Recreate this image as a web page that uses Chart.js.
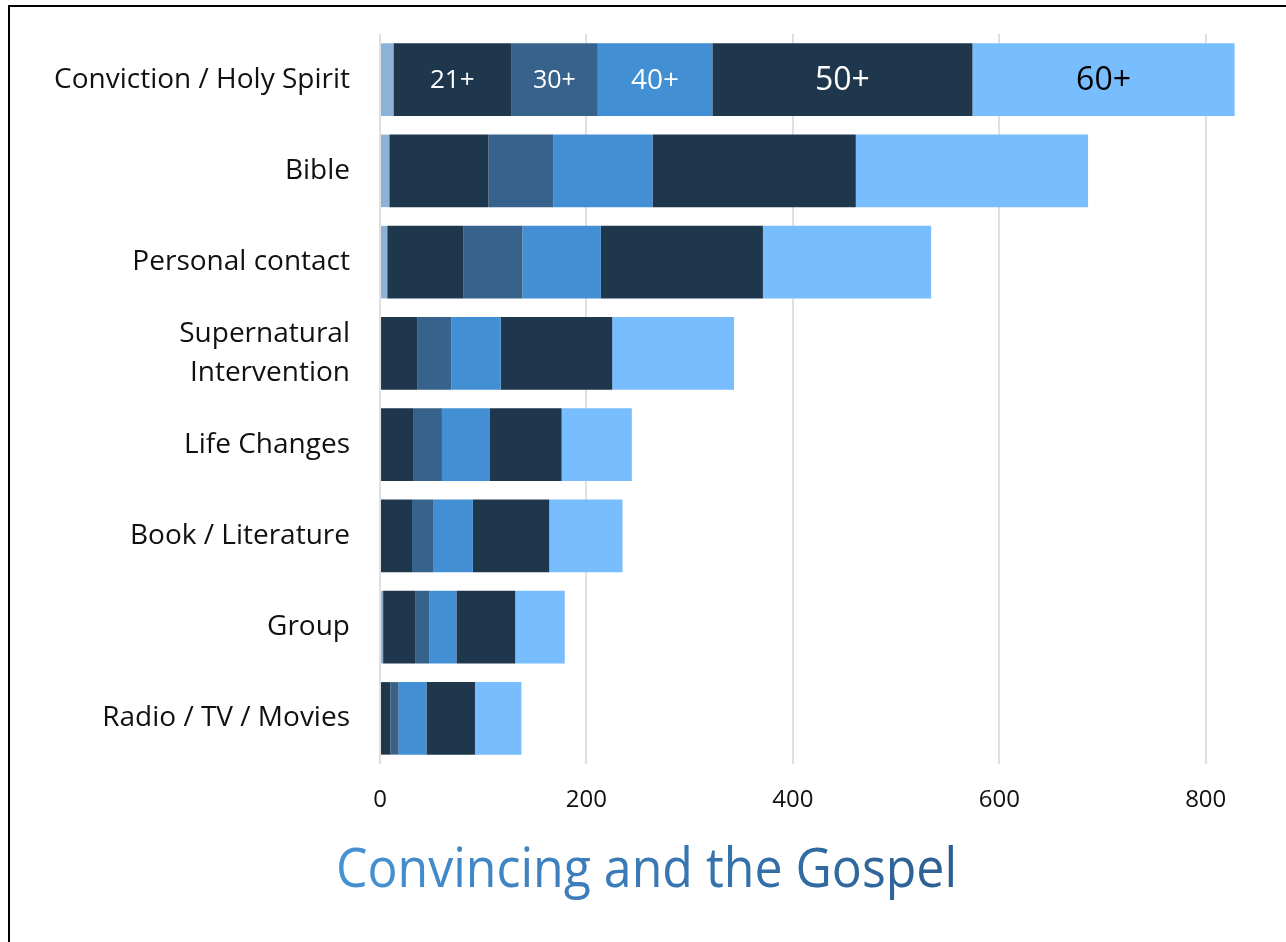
<!DOCTYPE html>
<html>
<head>
<meta charset="utf-8">
<title>Convincing and the Gospel</title>
<script src="https://cdn.jsdelivr.net/npm/chart.js@4.4.1/dist/chart.umd.min.js"></script>
<style>
  html, body { margin: 0; padding: 0; background: #fff; }
  #wrap { position: relative; width: 1286px; height: 942px; overflow: hidden; }
  #frame { position: absolute; left: 8px; top: 5px; right: -10px; bottom: -10px;
           border-left: 2px solid #000; border-top: 2px solid #000; }
  canvas { position: absolute; left: 0; top: 0; }
</style>
</head>
<body>
<div id="wrap">
  <canvas id="convincingChart" width="1286" height="942"></canvas>
  <div id="frame"></div>
</div>
<script>
// What convinced people, split by age group
const categories = [
  'Conviction / Holy Spirit',
  'Bible',
  'Personal contact',
  ['Supernatural', 'Intervention'],
  'Life Changes',
  'Book / Literature',
  'Group',
  'Radio / TV / Movies'
];
const ageGroups = ['Under 21', '21+', '30+', '40+', '50+', '60+'];
const under21 = [13, 9, 7, 1, 1, 0, 3, 0];
const age21 = [114, 96, 74, 35, 31, 31, 31, 10];
const age30 = [84, 63, 57, 33, 28, 21, 14, 8];
const age40 = [111, 96, 76, 48, 46, 38, 26, 27];
const age50 = [252, 197, 157, 108, 70, 74, 57, 47];
const age60 = [254, 225, 163, 118, 68, 71, 48, 45];
const xTicks = [0, 200, 400, 600, 800];
const chartTitle = 'Convincing and the Gospel';

const seriesValues = [under21, age21, age30, age40, age50, age60];
const seriesColors = ['#8cb2d8', '#1e374d', '#37628b', '#428fd3', '#1e374d', '#78bdfd'];

// in-bar labels on the first row: text colour and font size per age group
const inBarStyle = [
  null,
  { color: '#ffffff', size: 26 },
  { color: '#ffffff', size: 25 },
  { color: '#ffffff', size: 28 },
  { color: '#ffffff', size: 32 },
  { color: '#000000', size: 32 }
];

Chart.defaults.font.family = "'Open Sans', sans-serif";
Chart.defaults.color = '#000';

const datasets = ageGroups.map((label, i) => ({
  label: label,
  data: seriesValues[i],
  backgroundColor: seriesColors[i],
  borderWidth: 0,
  barPercentage: 0.795,
  categoryPercentage: 1.0
}));

const segmentLabels = {
  id: 'segmentLabels',
  afterDatasetsDraw(chart) {
    const ctx = chart.ctx;
    ctx.save();
    ctx.textAlign = 'center';
    ctx.textBaseline = 'middle';
    chart.data.datasets.forEach((ds, i) => {
      const style = inBarStyle[i];
      if (!style) return;
      const bar = chart.getDatasetMeta(i).data[0];
      ctx.fillStyle = style.color;
      ctx.font = style.size + "px 'Open Sans'";
      ctx.fillText(ds.label, (bar.x + bar.base) / 2, bar.y + 1);
    });
    ctx.restore();
  }
};

const bottomTitle = {
  id: 'bottomTitle',
  afterDraw(chart) {
    const ctx = chart.ctx;
    const left = 336, right = 957, baseline = 887;
    ctx.save();
    ctx.font = "55px 'Open Sans'";
    ctx.textBaseline = 'alphabetic';
    ctx.textAlign = 'left';
    const w = ctx.measureText(chartTitle).width;
    ctx.translate(left, baseline);
    ctx.scale((right - left) / w, 1);
    const grad = ctx.createLinearGradient(0, 0, w, 0);
    grad.addColorStop(0, '#4792d4');
    grad.addColorStop(1, '#2b5f93');
    ctx.fillStyle = grad;
    ctx.fillText(chartTitle, 0, 0);
    ctx.restore();
  }
};

new Chart(document.getElementById('convincingChart'), {
  type: 'bar',
  data: { labels: categories, datasets: datasets },
  options: {
    indexAxis: 'y',
    responsive: false,
    animation: false,
    layout: { padding: { top: 34, right: 39, left: 0, bottom: 0 } },
    plugins: {
      legend: { display: false },
      title: { display: false },
      tooltip: { enabled: false }
    },
    scales: {
      x: {
        stacked: true,
        min: 0,
        max: 840,
        afterBuildTicks: scale => {
          scale.ticks = xTicks.map(v => ({ value: v }));
        },
        afterFit: scale => { scale.height = 178; },
        grid: { color: '#e0e0e0', lineWidth: 2, drawTicks: false },
        border: { display: false },
        ticks: { padding: 22, font: { size: 24 }, color: '#111' }
      },
      y: {
        stacked: true,
        afterFit: scale => {
          scale.width = 380;
          // keep the category rows spread evenly over the plot height
          scale.paddingTop = 0;
          scale.paddingBottom = 0;
        },
        grid: { display: false, drawTicks: false },
        border: { display: false },
        ticks: {
          padding: 30,
          font: { size: 28, lineHeight: 1.38 },
          color: '#111',
          autoSkip: false
        }
      }
    }
  },
  plugins: [segmentLabels, bottomTitle]
});
</script>
</body>
</html>
